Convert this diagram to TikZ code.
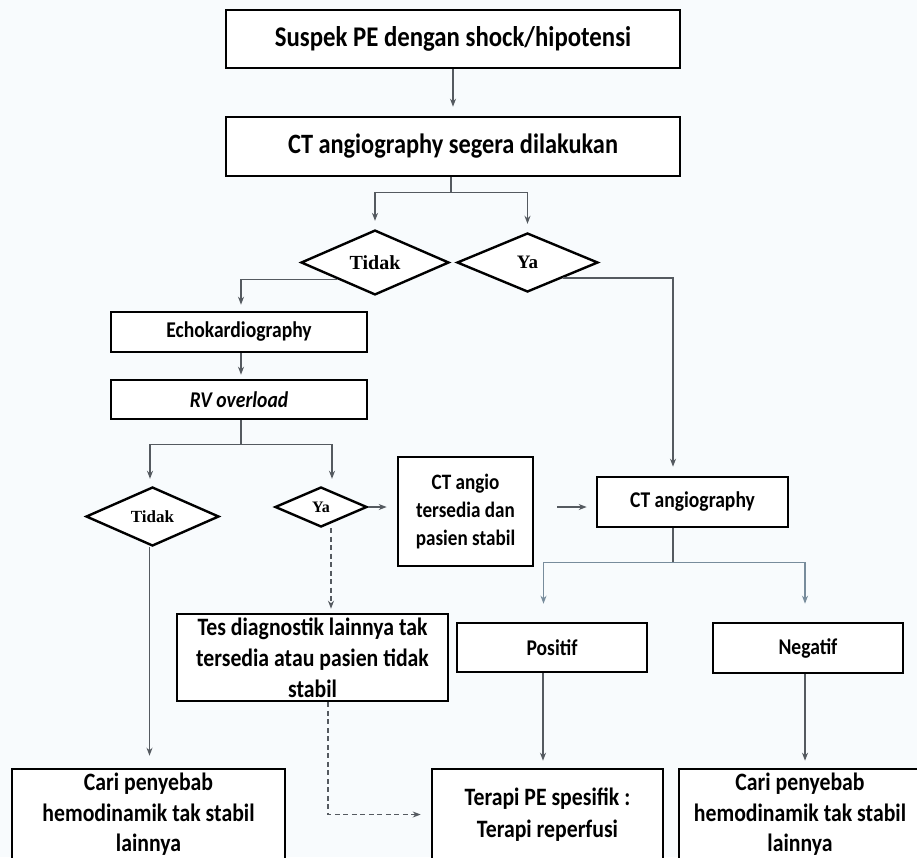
\documentclass[tikz,border=0pt]{standalone}
\usepackage{fontspec}
\setmainfont{Carlito}[FakeStretch=0.87]
\newfontfamily\dfont{Liberation Serif}
\usetikzlibrary{arrows.meta,shapes.geometric,calc}
\definecolor{bg}{RGB}{248,251,253}
\definecolor{ln}{RGB}{85,90,96}
\definecolor{lnb}{RGB}{120,140,156}
\begin{document}
\begin{tikzpicture}[x=1pt,y=-1pt,
  box/.style={draw=black,line width=2.6pt,fill=white,rectangle,inner sep=0pt,align=center},
  dia/.style={draw=black,line width=2.4pt,fill=white,diamond,inner sep=0pt},
  arr/.style={draw=ln,line width=1.5pt,-{Stealth[length=8pt,width=6pt]}},
  con/.style={draw=ln,line width=1.5pt},
  dsh/.style={draw=ln,line width=1.2pt,dash pattern=on 5pt off 3.5pt,-{Stealth[length=8pt,width=6pt]}}]
\fill[bg] (0,0) rectangle (917,857);
\useasboundingbox (0,0) rectangle (917,857);

\node[box,minimum width=454pt,minimum height=58pt,font=\bfseries\fontsize{28.5}{32}\selectfont] (b1) at (453,39) {Suspek PE dengan shock/hipotensi};
\node[box,minimum width=454pt,minimum height=59pt,font=\bfseries\fontsize{28}{32}\selectfont] (b2) at (453,146.5) {CT angiography segera dilakukan};
\node[dia,minimum width=148pt,minimum height=59pt,font=\dfont\bfseries\fontsize{20}{24}\selectfont] (dT) at (375,262.5) {Tidak};
\node[dia,minimum width=141pt,minimum height=59pt,font=\dfont\bfseries\fontsize{19}{24}\selectfont] (dY) at (527.5,262.5) {Ya};
\node[box,minimum width=256pt,minimum height=40pt,font=\bfseries\fontsize{22.5}{26}\selectfont] (echo) at (239,332) {Echokardiography};
\node[box,minimum width=256pt,minimum height=39pt,font=\bfseries\itshape\fontsize{22.5}{26}\selectfont] (rv) at (239,399.5) {RV overload};
\node[dia,minimum width=133pt,minimum height=59pt,font=\dfont\bfseries\fontsize{17}{20}\selectfont] (dT2) at (152.5,516.5) {Tidak};
\node[dia,minimum width=92pt,minimum height=40pt,font=\dfont\bfseries\fontsize{16}{20}\selectfont] (dY2) at (321,507) {Ya};
\node[box,minimum width=135pt,minimum height=109pt,font=\bfseries\fontsize{22}{27.5}\selectfont] (cta) at (465.5,511.5) {CT angio\\tersedia dan\\pasien stabil};
\node[box,minimum width=191pt,minimum height=50pt,font=\bfseries\fontsize{22.5}{26}\selectfont] (ctg) at (692.5,502) {CT angiography};
\node[box,minimum width=190pt,minimum height=49pt,font=\bfseries\fontsize{22.5}{26}\selectfont] (pos) at (552,647.5) {Positif};
\node[box,minimum width=190pt,minimum height=50pt,font=\bfseries\fontsize{22.5}{26}\selectfont] (neg) at (808,648) {Negatif};
\node[box,minimum width=271pt,minimum height=87pt,font=\bfseries\fontsize{25}{31}\selectfont] (tes) at (312.5,657.5) {Tes diagnostik lainnya tak\\tersedia atau pasien tidak\\stabil};
\node[box,minimum width=273pt,minimum height=91pt,font=\bfseries\fontsize{25}{30.5}\selectfont] (cari1) at (148.5,814.5) {Cari penyebab\\hemodinamik tak stabil\\lainnya};
\node[box,minimum width=231pt,minimum height=91pt,font=\bfseries\fontsize{25}{32}\selectfont] (terapi) at (547.5,814.5) {Terapi PE spesifik :\\Terapi reperfusi};
\node[box,minimum width=242pt,minimum height=91pt,font=\bfseries\fontsize{25}{30.5}\selectfont] (cari2) at (800,814.5) {Cari penyebab\\hemodinamik tak stabil\\lainnya};

\draw[arr,shorten >=9pt] (b1) -- (b2);
\draw[con] ([xshift=-2pt]b2.south) -- ++(0,15) coordinate (s1);
\draw[arr,shorten >=8pt] (s1) -| (dT.north);
\draw[arr,shorten >=8pt] (s1) -| (dY.north);
\draw[arr,shorten >=6pt] ($(dT.west)!0.5!(dT.south)$) -| ([xshift=2pt]echo.north);
\draw[arr,shorten >=9pt] ($(dY.east)!0.5!(dY.south)$) -| ([xshift=-19.5pt]ctg.north);
\draw[arr,shorten >=4pt] ([xshift=2pt]echo.south) -- ([xshift=2pt]rv.north);
\draw[con] ([xshift=2pt]rv.south) -- ++(0,24) coordinate (s2);
\draw[arr,shorten >=7pt] (s2) -| ([xshift=-2.5pt]dT2.north);
\draw[arr,shorten >=7pt] (s2) -| ([xshift=11pt]dY2.north);
\draw[arr,shorten >=10pt] (dY2.east) -- (dY2.east -| cta.west);
\draw[arr,shorten <=23pt,shorten >=9pt] (cta.east |- dY2.east) -- (ctg.west |- dY2.east);
\draw[con] ([xshift=-19.5pt]ctg.south) -- ++(0,34) coordinate (s3);
\draw[arr,draw=lnb,shorten >=18pt] (s3) -| ([xshift=-8.5pt]pos.north);
\draw[arr,draw=lnb,shorten >=18pt] (s3) -| ([xshift=-3pt]neg.north);
\draw[arr,shorten >=7pt] ([xshift=-9pt]pos.south) -- ([xshift=-9pt]pos.south |- terapi.north);
\draw[arr,shorten >=7pt] ([xshift=-3pt]neg.south) -- ([xshift=-3pt]neg.south |- cari2.north);
\draw[arr,shorten >=12pt] ([xshift=-3pt]dT2.south) -- ([xshift=-3pt]dT2.south |- cari1.north);
\draw[dsh,shorten >=4pt] ([xshift=10pt]dY2.south) -- ([xshift=10pt]dY2.south |- tes.north);
\draw[dsh,shorten >=10pt] ([xshift=15.5pt]tes.south) |- (terapi.west);
\end{tikzpicture}
\end{document}
